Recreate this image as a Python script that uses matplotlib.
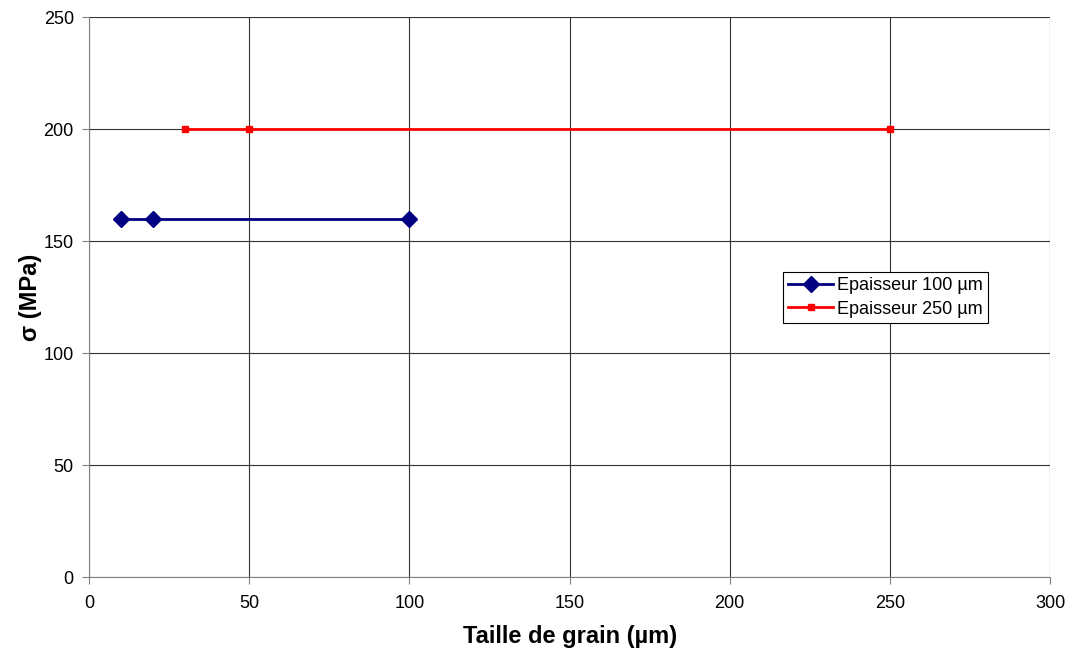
import matplotlib
matplotlib.use("Agg")
import matplotlib.pyplot as plt

plt.rcParams['font.family'] = ['Liberation Sans', 'DejaVu Sans']

# data
x_100 = [10, 20, 100]
y_100 = [160, 160, 160]
x_250 = [30, 50, 250]
y_250 = [200, 200, 200]

fig = plt.figure(figsize=(10.69, 6.5), dpi=100)
ax = fig.add_axes([0.0833, 0.1123, 0.8990, 0.8615])

ax.plot(x_100, y_100, color='#000080', lw=2, marker='D', markersize=8,
        label='Epaisseur 100 µm', clip_on=False, zorder=3)
ax.plot(x_250, y_250, color='#ff0000', lw=2, marker='s', markersize=5,
        label='Epaisseur 250 µm', clip_on=False, zorder=3)

ax.set_xlim(0, 300)
ax.set_ylim(0, 250)
ax.set_xticks(range(0, 301, 50))
ax.set_yticks(range(0, 251, 50))
ax.grid(True, color='#333333', lw=0.8)
ax.set_axisbelow(True)
for s in ['top', 'right']:
    ax.spines[s].set_visible(False)
for s in ['left', 'bottom']:
    ax.spines[s].set_color('#808080')
ax.tick_params(direction='out', length=5, color='#808080', labelsize=13, pad=6)
ax.tick_params(axis='x', pad=8)

ax.set_xlabel('Taille de grain (µm)', fontsize=17, fontweight='bold', labelpad=9)
ax.set_ylabel('σ (MPa)', fontsize=17, fontweight='bold', labelpad=1)

leg = ax.legend(loc='upper left', bbox_to_anchor=(0.722, 0.545), fontsize=13,
                frameon=True, fancybox=False, edgecolor='black', framealpha=1,
                borderpad=0.3, handlelength=2.5, handletextpad=0.2,
                labelspacing=0.35, borderaxespad=0)
leg.get_frame().set_linewidth(0.8)

fig.savefig('out.png', dpi=100)
